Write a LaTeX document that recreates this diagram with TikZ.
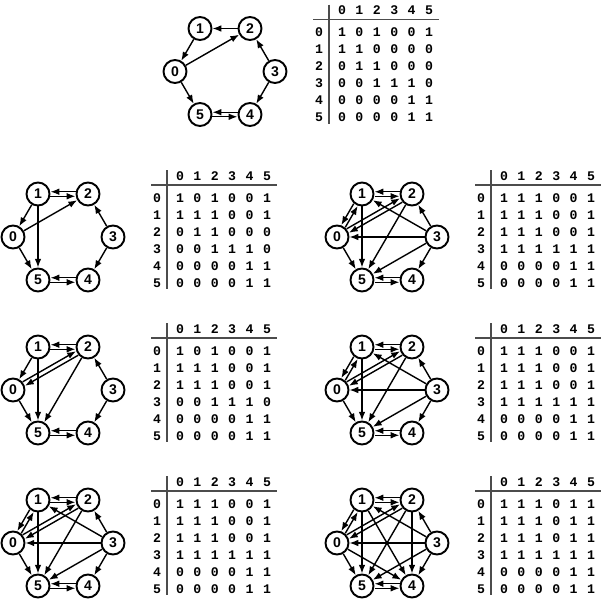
\documentclass[tikz,border=0pt]{standalone}
\usepackage{fontspec}
\newfontfamily\vertexfont{Liberation Sans}
\newfontfamily\entryfont{Liberation Mono}
\usetikzlibrary{calc}
\usetikzlibrary{arrows.meta}

\tikzset{
	vtx/.style={circle, draw, line width=1.1pt, fill=white, minimum size=0.46cm, inner sep=0pt,
		font=\vertexfont\bfseries\fontsize{8}{8}\selectfont},
	num/.style={inner sep=0pt, font=\entryfont\bfseries\fontsize{7.5}{7.5}\selectfont},
	edge/.style={->, line width=0.8pt},
	twin/.style={shorten >=0.25cm, shorten <=0.25cm},
	rule/.style={line width=1.1pt, black!70}
}

\newcommand{\vertices}[3] % panel, x, y of centre (px)
{
	\node[vtx] (#1-0) at (#2-50,#3) {0};
	\node[vtx] (#1-1) at (#2-25,#3-43) {1};
	\node[vtx] (#1-2) at (#2+25,#3-43) {2};
	\node[vtx] (#1-3) at (#2+50,#3) {3};
	\node[vtx] (#1-4) at (#2+25,#3+43) {4};
	\node[vtx] (#1-5) at (#2-25,#3+43) {5};
}
\newcommand{\arc}[3] % panel, from, to
{
	\draw[edge] (#1-#2) -- (#1-#3);
}
\newcommand{\twoway}[4][1.3] % [offset in pt, sign = side], panel, a, b
{
	\draw[edge,twin] ($(#2-#3.center)!#1pt!-90:(#2-#4.center)$) -- ($(#2-#4.center)!#1pt!90:(#2-#3.center)$);
	\draw[edge,twin] ($(#2-#4.center)!#1pt!-90:(#2-#3.center)$) -- ($(#2-#3.center)!#1pt!90:(#2-#4.center)$);
}
\newcommand{\adjtable}[9] % panel, x, y of graph centre, rows 0..5
{
	% rules
	\draw[rule] (#2+104,#3-67) -- (#2+104,#3+52);
	\draw[rule] (#2+88,#3-52) -- (#2+214,#3-52);
	% header and row labels
	\foreach \c in {0,...,5}
	{
		\node[num] (#1-h\c) at (#2+117+17.4*\c,#3-61) {\c};
		\node[num] (#1-r\c) at (#2+94,#3-39+17*\c) {\c};
	}
	% entries
	\foreach \v [count=\c from 0] in {#4} \node[num] (#1-m0\c) at (#2+117+17.4*\c,#3-39) {\v};
	\foreach \v [count=\c from 0] in {#5} \node[num] (#1-m1\c) at (#2+117+17.4*\c,#3-22) {\v};
	\foreach \v [count=\c from 0] in {#6} \node[num] (#1-m2\c) at (#2+117+17.4*\c,#3-5) {\v};
	\foreach \v [count=\c from 0] in {#7} \node[num] (#1-m3\c) at (#2+117+17.4*\c,#3+12) {\v};
	\foreach \v [count=\c from 0] in {#8} \node[num] (#1-m4\c) at (#2+117+17.4*\c,#3+29) {\v};
	\foreach \v [count=\c from 0] in {#9} \node[num] (#1-m5\c) at (#2+117+17.4*\c,#3+46) {\v};
}

\begin{document}
\begin{tikzpicture}[x=0.02cm, y=-0.02cm, >={Latex[length=5pt,width=3.8pt]}]
	\useasboundingbox (0,0) rectangle (600,602);
	% R0
	\vertices{r0}{225}{71.5}
	\arc{r0}{1}{0}
	\arc{r0}{0}{2}
	\arc{r0}{2}{1}
	\arc{r0}{3}{2}
	\arc{r0}{3}{4}
	\arc{r0}{0}{5}
	\twoway{r0}{4}{5}
	\adjtable{r0}{225}{71.5}{1,0,1,0,0,1}{1,1,0,0,0,0}{0,1,1,0,0,0}{0,0,1,1,1,0}{0,0,0,0,1,1}{0,0,0,0,1,1}
	
	% R1
	\vertices{r1}{63}{237}
	\arc{r1}{1}{0}
	\arc{r1}{0}{2}
	\arc{r1}{3}{2}
	\arc{r1}{3}{4}
	\arc{r1}{0}{5}
	\arc{r1}{1}{5}
	\twoway{r1}{2}{1}
	\twoway{r1}{4}{5}
	\adjtable{r1}{63}{237}{1,0,1,0,0,1}{1,1,1,0,0,1}{0,1,1,0,0,0}{0,0,1,1,1,0}{0,0,0,0,1,1}{0,0,0,0,1,1}
	
	% R2
	\vertices{r2}{63}{390}
	\arc{r2}{1}{0}
	\arc{r2}{3}{2}
	\arc{r2}{3}{4}
	\arc{r2}{0}{5}
	\arc{r2}{1}{5}
	\arc{r2}{2}{5}
	\twoway{r2}{2}{1}
	\twoway[-1.3]{r2}{0}{2}
	\twoway{r2}{4}{5}
	\adjtable{r2}{63}{390}{1,0,1,0,0,1}{1,1,1,0,0,1}{1,1,1,0,0,1}{0,0,1,1,1,0}{0,0,0,0,1,1}{0,0,0,0,1,1}
	
	% R3, R4, R5
	\foreach \p/\x/\y in {r3/63/543, r4/387/237, r5/387/390}
	{
		\vertices{\p}{\x}{\y}
		\arc{\p}{3}{0}
		\arc{\p}{3}{1}
		\arc{\p}{3}{2}
		\arc{\p}{3}{4}
		\arc{\p}{3}{5}
		\arc{\p}{0}{5}
		\arc{\p}{1}{5}
		\arc{\p}{2}{5}
		\twoway{\p}{0}{1}
		\twoway[-1.3]{\p}{0}{2}
		\twoway{\p}{2}{1}
		\twoway{\p}{4}{5}
		\adjtable{\p}{\x}{\y}{1,1,1,0,0,1}{1,1,1,0,0,1}{1,1,1,0,0,1}{1,1,1,1,1,1}{0,0,0,0,1,1}{0,0,0,0,1,1}
	}
	
	% R6
	\vertices{r6}{387}{543}
	\arc{r6}{3}{0}
	\arc{r6}{3}{1}
	\arc{r6}{3}{2}
	\arc{r6}{3}{4}
	\arc{r6}{3}{5}
	\arc{r6}{0}{5}
	\arc{r6}{1}{5}
	\arc{r6}{2}{5}
	\arc{r6}{0}{4}
	\arc{r6}{1}{4}
	\arc{r6}{2}{4}
	\twoway{r6}{0}{1}
	\twoway[-1.3]{r6}{0}{2}
	\twoway{r6}{2}{1}
	\twoway{r6}{4}{5}
	\adjtable{r6}{387}{543}{1,1,1,0,1,1}{1,1,1,0,1,1}{1,1,1,0,1,1}{1,1,1,1,1,1}{0,0,0,0,1,1}{0,0,0,0,1,1}
\end{tikzpicture}
\end{document}
